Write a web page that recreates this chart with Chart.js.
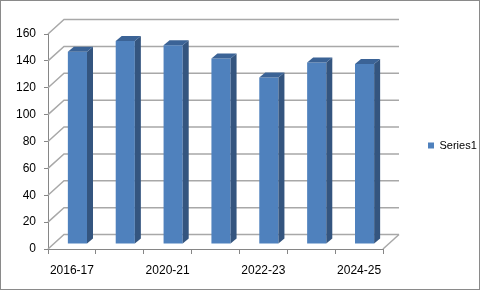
<!DOCTYPE html>
<html>
<head>
<meta charset="utf-8">
<script src="https://cdn.jsdelivr.net/npm/chart.js@4.4.0/dist/chart.umd.min.js"></script>
<style>
html, body { margin: 0; padding: 0; background: #fff; }
canvas { display: block; }
</style>
</head>
<body>
<canvas id="chart" width="480" height="290"></canvas>
<script>
const categories = ["2016-17", "2018-19", "2020-21", "2021-22", "2022-23", "2023-24", "2024-25"];
const values = [143, 151, 148, 138, 124, 135, 134];
const seriesName = "Series1";
const yTicks = [0, 20, 40, 60, 80, 100, 120, 140, 160];

// oblique 3D look: wall depth, bar plane shift and bar thickness
const depth = { x: 16, y: -14.5 };
const barShift = { x: 5.5, y: -5 };
const barDepth = { x: 6, y: -5 };

const wall3d = {
    id: "wall3d",
    beforeDatasetsDraw(chart) {
        const { ctx, chartArea: a, scales: { y } } = chart;
        ctx.save();
        ctx.strokeStyle = "#a8a8a8";
        ctx.lineWidth = 1.5;
        yTicks.forEach(v => {
            const py = y.getPixelForValue(v);
            ctx.beginPath();
            ctx.moveTo(a.left, py);
            ctx.lineTo(a.left + depth.x, py + depth.y);
            ctx.lineTo(a.right + depth.x, py + depth.y);
            ctx.stroke();
        });
        ctx.beginPath();
        ctx.moveTo(a.right, a.bottom);
        ctx.lineTo(a.right + depth.x, a.bottom + depth.y);
        ctx.stroke();
        ctx.restore();
        ctx.save();
        ctx.translate(barShift.x, barShift.y);
    },
    afterDatasetsDraw(chart) {
        const ctx = chart.ctx;
        chart.getDatasetMeta(0).data.forEach(bar => {
            const { x, y, base, width } = bar.getProps(["x", "y", "base", "width"], true);
            const l = x - width / 2, r = x + width / 2;
            ctx.fillStyle = "#34557f";
            ctx.beginPath();
            ctx.moveTo(r, y);
            ctx.lineTo(r + barDepth.x, y + barDepth.y);
            ctx.lineTo(r + barDepth.x, base + barDepth.y);
            ctx.lineTo(r, base);
            ctx.closePath();
            ctx.fill();
            ctx.fillStyle = "#3b6396";
            ctx.beginPath();
            ctx.moveTo(l, y);
            ctx.lineTo(l + barDepth.x, y + barDepth.y);
            ctx.lineTo(r + barDepth.x, y + barDepth.y);
            ctx.lineTo(r, y);
            ctx.closePath();
            ctx.fill();
        });
        ctx.restore();
    },
    afterDraw(chart) {
        const ctx = chart.ctx;
        ctx.save();
        ctx.strokeStyle = "#8a8a8a";
        ctx.lineWidth = 1;
        ctx.strokeRect(0.5, 0.5, chart.width - 1, chart.height - 1);
        ctx.restore();
    }
};

const tickFont = { family: "'Liberation Sans', Arial, sans-serif", size: 12 };

new Chart(document.getElementById("chart"), {
    type: "bar",
    data: {
        labels: categories,
        datasets: [{
            label: seriesName,
            data: values,
            backgroundColor: "#4f81bd",
            borderWidth: 0,
            categoryPercentage: 1,
            barPercentage: 0.4,
            clip: false
        }]
    },
    options: {
        responsive: false,
        animation: false,
        devicePixelRatio: 1,
        layout: { padding: { top: 34, left: 0, right: 0, bottom: 0 } },
        plugins: {
            tooltip: { enabled: false },
            legend: {
                position: "right",
                fullSize: false,
                maxWidth: 97,
                // empty title only nudges the item down a few pixels
                title: { display: true, text: "", padding: 0, font: { size: 8, lineHeight: 1 } },
                labels: {
                    boxWidth: 6,
                    boxHeight: 6,
                    padding: 45,
                    color: "#000",
                    font: { family: "'Liberation Sans', Arial, sans-serif", size: 11 }
                }
            }
        },
        scales: {
            x: {
                afterFit(scale) { scale.height = 41; },
                grid: { offset: true, drawOnChartArea: false, tickLength: 5, color: "#868686" },
                border: { color: "#868686" },
                ticks: {
                    autoSkip: false,
                    maxRotation: 0,
                    padding: 9,
                    color: "#000",
                    font: tickFont,
                    callback(value, index) { return index % 2 === 0 ? categories[index] : ""; }
                }
            },
            y: {
                min: 0,
                max: 160,
                afterFit(scale) { scale.width = 48; },
                grid: { drawOnChartArea: false, tickLength: 4, color: "#868686" },
                border: { color: "#868686" },
                ticks: { stepSize: 20, padding: 8, color: "#000", font: tickFont }
            }
        }
    },
    plugins: [wall3d]
});
</script>
</body>
</html>
